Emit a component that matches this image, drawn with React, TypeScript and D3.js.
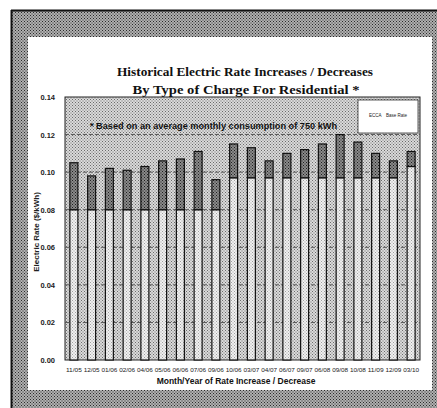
import React, { useEffect, useRef } from 'react'
import * as d3 from 'd3'

// values
const months = ['11/05', '12/05', '01/06', '02/06', '04/06', '05/06', '06/06', '07/06', '09/06', '10/06',
  '03/07', '04/07', '06/07', '09/07', '06/08', '09/08', '10/08', '11/09', '12/09', '03/10']
const baseRate = [0.080, 0.080, 0.080, 0.080, 0.080, 0.080, 0.080, 0.080, 0.080, 0.097,
  0.097, 0.097, 0.097, 0.097, 0.097, 0.097, 0.097, 0.097, 0.097, 0.103]
const ecca = [0.025, 0.018, 0.022, 0.021, 0.023, 0.026, 0.027, 0.031, 0.016, 0.018,
  0.016, 0.009, 0.013, 0.015, 0.018, 0.023, 0.019, 0.013, 0.009, 0.008]
const yTicks = [0, 0.02, 0.04, 0.06, 0.08, 0.10, 0.12, 0.14]
const seriesKeys = ['base', 'ecca']

const W = 437
const H = 408
const sans = '"Liberation Sans", Arial, sans-serif'
const serif = '"Liberation Serif", "Times New Roman", serif'

export default function App() {
  const ref = useRef<SVGSVGElement | null>(null)

  useEffect(() => {
    document.body.style.margin = '0'
    const svg = d3.select(ref.current)
    svg.selectAll('*').remove()

    // stipple patterns to imitate the scanned halftone
    const defs = svg.append('defs')
    const stipple = (id: string, bg: string, dot: string, size: number) => {
      const p = defs.append('pattern').attr('id', id).attr('width', size).attr('height', size)
        .attr('patternUnits', 'userSpaceOnUse')
      p.append('rect').attr('width', size).attr('height', size).attr('fill', bg)
      p.append('rect').attr('x', 0).attr('y', 0).attr('width', 1).attr('height', 1).attr('fill', dot)
      p.append('rect').attr('x', size / 2).attr('y', size / 2).attr('width', 1).attr('height', 1).attr('fill', dot)
    }
    stipple('frame', '#b0b0b0', '#2a2a2a', 3)
    stipple('plotbg', '#dadada', '#6a6a6a', 3)
    stipple('barLight', '#f0f0f0', '#a0a0a0', 3)
    stipple('barDark', '#8a8a8a', '#1e1e1e', 3)

    // scanned frame
    svg.append('rect').attr('width', W).attr('height', H).attr('fill', '#fff')
    svg.append('rect').attr('x', 11).attr('y', 10).attr('width', W - 11).attr('height', H - 10)
      .attr('fill', 'url(#frame)')
    svg.append('line').attr('x1', 11.5).attr('x2', 11.5).attr('y1', 10).attr('y2', H)
      .attr('stroke', '#111').attr('stroke-width', 2)
    svg.append('line').attr('x1', 11).attr('x2', W).attr('y1', 10.5).attr('y2', 10.5)
      .attr('stroke', '#111').attr('stroke-width', 2)
    svg.append('rect').attr('x', 28).attr('y', 37).attr('width', 404).attr('height', 353)
      .attr('fill', '#fff')

    const x = d3.scaleBand<string>().domain(months).range([65, 420])
      .paddingInner(0.55).paddingOuter(0.275)
    const y = d3.scaleLinear().domain([0, 0.14]).range([360, 97])

    // plot area
    svg.append('rect').attr('x', 65).attr('y', y(0.14)).attr('width', 355).attr('height', y(0) - y(0.14))
      .attr('fill', 'url(#plotbg)').attr('stroke', '#222').attr('stroke-width', 1)

    svg.append('g').selectAll('line').data(yTicks.slice(1, -1)).join('line')
      .attr('x1', 65).attr('x2', 420)
      .attr('y1', d => y(d)).attr('y2', d => y(d))
      .attr('stroke', '#555').attr('stroke-width', 1).attr('stroke-dasharray', '4,2')

    const rows = months.map((m, i) => ({ month: m, base: baseRate[i], ecca: ecca[i] }))
    const stacked = d3.stack<any>().keys(seriesKeys)(rows)
    const fills = ['url(#barLight)', 'url(#barDark)']
    stacked.forEach((layer, li) => {
      svg.append('g').selectAll('rect').data(layer).join('rect')
        .attr('x', d => x(d.data.month) as number)
        .attr('width', x.bandwidth())
        .attr('y', d => y(d[1]))
        .attr('height', d => y(d[0]) - y(d[1]))
        .attr('fill', fills[li])
        .attr('stroke', '#111').attr('stroke-width', 1.2)
    })

    // y axis labels
    svg.append('g').selectAll('text').data(yTicks).join('text')
      .attr('x', 55).attr('y', d => y(d) + 3)
      .attr('text-anchor', 'end').attr('font-family', sans).attr('font-weight', 'bold')
      .attr('font-size', 7.5).attr('fill', '#222')
      .text(d => d3.format('.2f')(d))

    svg.append('text').attr('transform', 'translate(39,232) rotate(-90)')
      .attr('text-anchor', 'middle').attr('font-family', sans).attr('font-weight', 'bold')
      .attr('font-size', 8).attr('fill', '#222').text('Electric Rate ($/kWh)')

    // x axis labels
    svg.append('g').selectAll('text').data(months).join('text')
      .attr('x', d => (x(d) as number) + x.bandwidth() / 2).attr('y', 372)
      .attr('text-anchor', 'middle').attr('font-family', sans)
      .attr('font-size', 6).attr('fill', '#222')
      .attr('textLength', 16).attr('lengthAdjust', 'spacingAndGlyphs')
      .text(d => d)

    svg.append('text').attr('x', 236).attr('y', 384)
      .attr('text-anchor', 'middle').attr('font-family', sans).attr('font-weight', 'bold')
      .attr('font-size', 8.5).attr('fill', '#111').text('Month/Year of Rate Increase / Decrease')

    // title
    svg.append('text').attr('x', 245).attr('y', 76)
      .attr('text-anchor', 'middle').attr('font-family', serif).attr('font-weight', 'bold')
      .attr('font-size', 13.5).attr('fill', '#111')
      .attr('textLength', 256).attr('lengthAdjust', 'spacingAndGlyphs')
      .text('Historical Electric Rate Increases / Decreases')
    svg.append('text').attr('x', 246).attr('y', 94)
      .attr('text-anchor', 'middle').attr('font-family', serif).attr('font-weight', 'bold')
      .attr('font-size', 13.5).attr('fill', '#111')
      .attr('textLength', 227).attr('lengthAdjust', 'spacingAndGlyphs')
      .text('By Type of Charge For Residential *')

    // note
    svg.append('text').attr('x', 90).attr('y', 129)
      .attr('font-family', sans).attr('font-weight', 'bold')
      .attr('font-size', 8.5).attr('fill', '#111')
      .attr('textLength', 247).attr('lengthAdjust', 'spacingAndGlyphs')
      .text('* Based on an average monthly consumption of 750 kWh')

    // legend
    svg.append('rect').attr('x', 358).attr('y', 100).attr('width', 60).attr('height', 33)
      .attr('fill', '#fff').attr('stroke', '#333').attr('stroke-width', 0.8)
    svg.append('g').selectAll('text').data(['ECCA', 'Base Rate']).join('text')
      .attr('x', (d, i) => [369, 386][i]).attr('y', 117)
      .attr('font-family', sans).attr('font-size', 4.5).attr('fill', '#222')
      .text(d => d)
  }, [])

  return <svg ref={ref} width={W} height={H} style={{ display: 'block' }} />
}
